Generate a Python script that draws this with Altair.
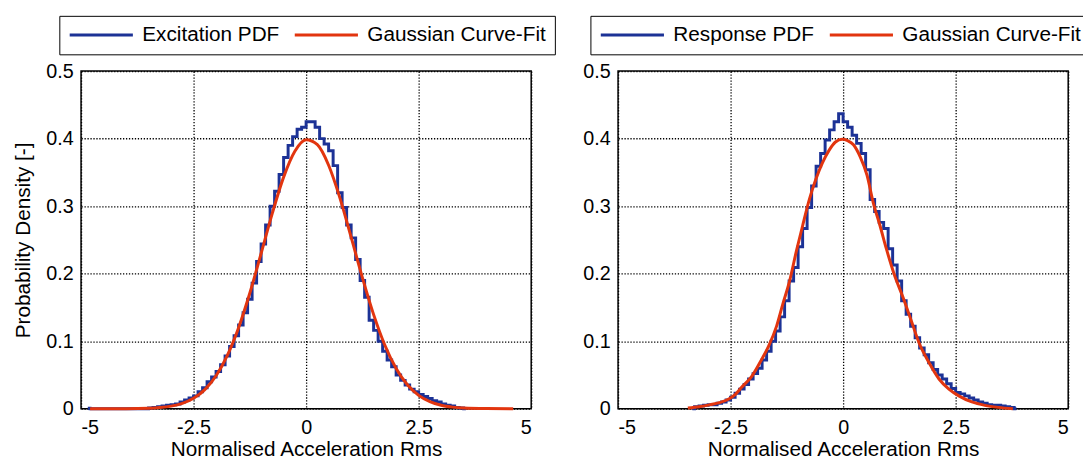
import altair as alt
import pandas as pd

FONT = "Liberation Sans"
BLUE = "#1c3296"
RED = "#e2350f"
FIT_NAME = "Gaussian Curve-Fit"

# ---- Excitation histogram (bin width 0.1, first bin centre -3.45) ----
BIN_W = 0.1
exc_start = -3.45
exc_vals = [0.001, 0.002, 0.003, 0.004, 0.005, 0.006, 0.007, 0.010, 0.013, 0.016,
            0.019, 0.025, 0.031, 0.040, 0.047, 0.055, 0.065, 0.078, 0.092, 0.108,
            0.124, 0.142, 0.162, 0.186, 0.218, 0.244, 0.272, 0.300, 0.322, 0.347,
            0.372, 0.390, 0.403, 0.414, 0.417, 0.425, 0.425, 0.417, 0.400, 0.392,
            0.382, 0.360, 0.320, 0.298, 0.272, 0.253, 0.221, 0.190, 0.165, 0.131,
            0.116, 0.100, 0.085, 0.072, 0.062, 0.050, 0.042, 0.035, 0.029, 0.025,
            0.021, 0.018, 0.015, 0.012, 0.010, 0.007, 0.005, 0.004, 0.002, 0.001]
exc_outlier_x = [-4.85, -4.75]
exc_outlier_y = [0.0006, 0.0]

# ---- Response histogram (bin width 0.1, first bin centre -3.25) ----
resp_start = -3.25
resp_vals = [0.003, 0.004, 0.005, 0.006, 0.006, 0.008, 0.010, 0.013, 0.017, 0.023,
             0.029, 0.036, 0.044, 0.052, 0.060, 0.072, 0.085, 0.100, 0.115, 0.136,
             0.160, 0.189, 0.209, 0.240, 0.267, 0.298, 0.330, 0.359, 0.378, 0.398,
             0.413, 0.425, 0.437, 0.425, 0.417, 0.405, 0.393, 0.378, 0.354, 0.310,
             0.292, 0.276, 0.267, 0.237, 0.213, 0.189, 0.160, 0.140, 0.122, 0.105,
             0.090, 0.080, 0.068, 0.058, 0.050, 0.044, 0.037, 0.030, 0.024, 0.022,
             0.019, 0.016, 0.013, 0.010, 0.008, 0.006, 0.005, 0.005, 0.004, 0.003,
             0.002]

# ---- Gaussian curve fits ----
exc_fit_x = [-4.8, -4.0, -3.5, -3.25, -3.0, -2.75, -2.5, -2.25, -2.0, -1.75, -1.5,
             -1.25, -1.0, -0.75, -0.5, -0.25, 0.0, 0.25, 0.5, 0.75, 1.0, 1.25, 1.5,
             1.75, 2.0, 2.25, 2.5, 2.75, 3.0, 3.25, 3.5, 4.0, 4.6]
exc_fit_y = [0.0, 0.0001, 0.0007, 0.0017, 0.0038, 0.0079, 0.0154, 0.0283, 0.0488,
             0.0790, 0.1200, 0.1714, 0.2299, 0.2897, 0.3430, 0.3814, 0.3984, 0.3910,
             0.3606, 0.3123, 0.2540, 0.1942, 0.1394, 0.0940, 0.0596, 0.0355, 0.0198,
             0.0104, 0.0051, 0.0024, 0.0010, 0.0002, 0.0]

resp_fit_x = [-3.45, -3.2, -2.95, -2.75, -2.55, -2.4, -2.25, -2.03, -1.81, -1.66,
              -1.48, -1.34, -1.19, -1.04, -0.9, -0.75, -0.61, -0.46, -0.31, -0.17,
              -0.02, 0.1, 0.23, 0.38, 0.53, 0.67, 0.82, 0.96, 1.14, 1.33, 1.51, 1.69,
              1.91, 2.13, 2.35, 2.57, 2.86, 3.15, 3.45, 3.77]
resp_fit_y = [0.001, 0.003, 0.006, 0.009, 0.014, 0.021, 0.032, 0.048, 0.073, 0.092,
              0.122, 0.155, 0.189, 0.233, 0.271, 0.310, 0.339, 0.364, 0.383, 0.395,
              0.399, 0.397, 0.391, 0.373, 0.346, 0.305, 0.271, 0.237, 0.198, 0.165,
              0.131, 0.097, 0.068, 0.044, 0.029, 0.019, 0.010, 0.005, 0.002, 0.0]

x_ticks = [-5, -2.5, 0, 2.5, 5]
y_ticks = [0, 0.1, 0.2, 0.3, 0.4, 0.5]


def hist_frame(start, vals, name, pre_x=(), pre_y=()):
    xs = [round(start + i * BIN_W, 4) for i in range(len(vals))]
    x = list(pre_x) + [round(start - BIN_W, 4)] + xs + [round(xs[-1] + BIN_W, 4)]
    y = list(pre_y) + [0.0] + vals + [0.0]
    return pd.DataFrame({"x": x, "y": y, "s": name})


def panel(hist_df, fit_x, fit_y, pdf_name, ytitle, lx):
    fit_df = pd.DataFrame({"x": fit_x, "y": fit_y, "s": FIT_NAME})
    color = alt.Color(
        "s:N",
        scale=alt.Scale(domain=[pdf_name, FIT_NAME], range=[BLUE, RED]),
        legend=alt.Legend(
            title=None, orient="none", legendX=lx, legendY=-56,
            direction="horizontal", strokeColor="black", padding=9,
            symbolType="stroke", symbolSize=4096, symbolStrokeWidth=3,
            clipHeight=21, labelFont=FONT, labelFontSize=21, labelColor="black",
            labelOffset=8, columnPadding=14, labelLimit=400,
        ),
    )
    xenc = alt.X("x:Q", scale=alt.Scale(domain=[-5, 5], nice=False, zero=False),
                 axis=alt.Axis(values=x_ticks, labelExpr="'' + datum.value",
                               title="Normalised Acceleration Rms"))
    yaxis = dict(values=y_ticks, labelExpr="'' + datum.value")
    if ytitle:
        yaxis["title"] = ytitle
    else:
        yaxis["title"] = None
    yenc = alt.Y("y:Q", scale=alt.Scale(domain=[0, 0.5], nice=False),
                 axis=alt.Axis(**yaxis))
    h = alt.Chart(hist_df).mark_line(interpolate="step", strokeWidth=3).encode(
        x=xenc, y=yenc, color=color)
    f = alt.Chart(fit_df).mark_line(interpolate="monotone", strokeWidth=3).encode(
        x=xenc, y=yenc, color=color)
    return alt.layer(h, f).properties(width=456, height=342)


left = panel(hist_frame(exc_start, exc_vals, "Excitation PDF", exc_outlier_x, exc_outlier_y),
             exc_fit_x, exc_fit_y, "Excitation PDF", "Probability Density [-]", -22)
right = panel(hist_frame(resp_start, resp_vals, "Response PDF"),
              resp_fit_x, resp_fit_y, "Response PDF", "", -28)

chart = (
    alt.hconcat(left, right, spacing=25)
    .resolve_scale(color="independent")
    .properties(padding={"left": 4, "top": 3, "right": -9, "bottom": -4})
    .configure(font=FONT)
    .configure_view(stroke="black", strokeWidth=1.5)
    .configure_axis(
        labelFont=FONT, labelFontSize=20, labelColor="black",
        titleFont=FONT, titleFontSize=21, titleFontWeight="normal", titleColor="black",
        grid=True, gridColor="black", gridDash=[1.3, 1.7], gridOpacity=1, gridWidth=1.3,
        domain=False, ticks=False,
    )
    .configure_axisY(titlePadding=12, labelPadding=8)
    .configure_axisX(titlePadding=1, labelPadding=9)
)

chart.save("out.html", embed_options={"renderer": "svg", "actions": False})
